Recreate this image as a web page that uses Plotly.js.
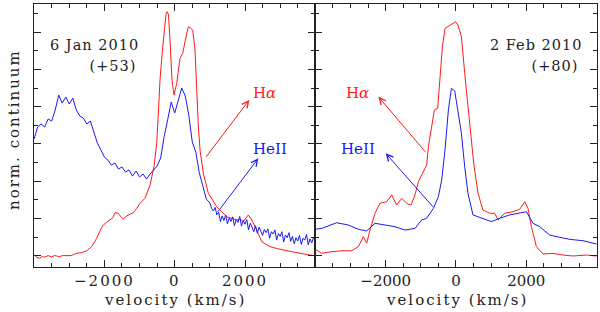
<!DOCTYPE html>
<html>
<head>
<meta charset="utf-8">
<script src="https://cdn.plot.ly/plotly-3.0.1.min.js"></script>
<style>
html,body{margin:0;padding:0;background:#fff;}
#chart{width:600px;height:312px;}
#chart .xtick text,
#chart g.annotation[data-index="12"] text,
#chart g.annotation[data-index="13"] text,
#chart g.annotation[data-index="14"] text{letter-spacing:2px;}
#chart g.annotation[data-index="0"] text,
#chart g.annotation[data-index="1"] text,
#chart g.annotation[data-index="2"] text,
#chart g.annotation[data-index="3"] text{letter-spacing:1px;}
</style>
</head>
<body>
<div id="chart"></div>
<script>
// ---------- Panel 1: 6 Jan 2010 (+53) ----------
const heII1V = [-4000,-3900,-3800,-3700,-3600,-3500,-3400,-3300,-3200,-3100,-3000,-2900,-2800,-2700,-2600,-2500,-2400,-2300,-2200,-2100,-2000,-1900,-1800,-1700,-1600,-1500,-1400,-1300,-1200,-1100,-1000,-900,-800,-700,-600,-500,-400,-300,-200,-100,0,100,200,300,400,500,600,700,800,900,
  1000,1050,1100,1150,1200,1250,1300,1350,1400,1450,1500,1550,1600,1650,1700,1750,1800,1850,1900,1950,2000,2050,2100,2150,2200,2250,2300,2350,2400,2450,2500,2550,2600,2650,2700,2750,2800,2850,2900,2950,3000,3050,3100,3150,3200,3250,3300,3350,3400,3450,3500,3550,3600,3650,3700,3750,3800,3850,3900,3950,4000];
const heII1 = [6.27,6.91,7.07,6.91,7.34,7.23,7.82,8.62,8.19,8.52,8.14,8.46,7.82,7.50,7.39,7.07,7.23,6.64,6.05,5.68,5.30,5.14,4.87,4.98,4.66,4.77,4.50,4.61,4.28,4.55,4.23,4.39,4.12,4.39,4.61,4.82,5.25,6.40,7.30,8.25,7.66,8.36,9.00,8.57,7.55,6.11,5.57,4.45,3.70,3.05,
  2.84,2.55,2.41,2.60,2.20,2.35,1.85,2.15,1.90,2.20,1.72,2.05,1.85,2.10,1.62,1.95,1.80,2.12,1.60,1.90,1.70,1.95,1.40,1.75,1.55,1.30,1.62,1.22,1.55,1.35,1.10,1.42,1.25,1.45,0.95,1.30,1.18,1.40,0.85,1.20,1.05,1.30,0.75,1.12,0.98,1.25,0.78,1.05,0.65,0.98,0.80,1.10,0.62,0.95,0.85,1.15,0.60,0.92,0.70,1.00,0.80];

const ha1V = [-4000,-3920,-3840,-3760,-3700,-3600,-3500,-3420,-3357,-3280,-3200,-3073,-2950,-2870,-2788,-2650,-2504,-2361,-2219,-2100,-2031,-1940,-1840,-1760,-1698,-1605,-1530,-1462,-1390,-1320,-1250,-1178,-1080,-988,-845,-703,-589,-512,-461,-418,-361,-304,-248,-211,-176,-134,-77,-20,57,151,228,293,387,455,512,578,626,671,720,814,956,1195,1479,1650,1764,1860,1952,2094,2191,2333,2475,2600,2711,2900,3090,3300,3471,3650,3849,4000];
const ha1 = [0.05,-0.08,-0.12,-0.02,-0.06,0.02,-0.05,0.03,0.00,-0.04,0.02,0.04,0.02,0.08,0.14,0.18,0.28,0.50,0.95,1.45,1.66,1.80,1.93,2.05,2.32,2.29,2.10,1.97,2.12,2.20,2.25,2.32,2.55,2.82,3.09,3.80,4.78,6.04,7.82,9.43,10.77,12.10,12.96,13.09,12.91,11.57,9.43,8.62,9.25,10.59,10.86,11.48,12.28,12.20,12.10,11.03,8.36,7.02,5.68,4.43,3.36,2.64,2.10,2.02,1.93,1.98,1.84,2.20,1.93,1.39,0.77,0.62,0.50,0.40,0.32,0.22,0.18,0.12,0.05,0.00];

// ---------- Panel 2: 2 Feb 2010 (+80) ----------
const heII2V = [-4000,-3821,-3394,-3061,-2777,-2541,-2304,-2020,-1735,-1451,-1166,-976,-834,-643,-501,-407,-313,-216,-131,-37,57,154,248,341,484,768,1007,1243,1528,2003,2191,2381,2666,2950,3235,3613,4000];
const heII2 = [1.43,1.48,1.78,1.66,1.43,1.34,1.75,1.66,1.57,1.39,1.48,1.93,2.02,2.55,3.18,4.07,5.68,7.82,8.98,8.85,7.82,6.57,4.78,3.36,2.20,2.02,1.84,2.02,2.20,2.37,1.75,1.57,1.12,1.00,0.89,0.82,0.64];

const ha2V = [-4000,-3821,-3536,-3252,-2967,-2777,-2634,-2541,-2447,-2304,-2162,-1972,-1829,-1687,-1545,-1403,-1280,-1166,-1070,-927,-834,-785,-691,-615,-521,-455,-387,-313,-171,-9,57,154,248,390,504,626,768,959,1101,1195,1386,1622,1812,1955,2048,2145,2287,2475,2760,3044,3329,3710,4000];
const ha2 = [0.36,0.14,0.23,0.28,0.28,0.50,1.03,0.68,1.39,2.29,2.82,2.91,3.27,2.73,3.09,2.82,2.73,3.27,3.98,4.52,4.87,5.85,6.93,7.82,7.91,9.43,11.21,12.20,12.37,12.55,12.37,11.75,9.79,6.93,4.97,3.36,2.46,2.29,2.29,1.93,2.29,2.37,2.50,2.91,2.55,1.57,0.50,0.11,0.14,0.05,0.00,0.05,0.00];

const xTickVals = [-2000, 0, 2000];
const panelDates = ["6 Jan 2010", "2 Feb 2010"];
const panelEpochs = ["(+53)", "(+80)"];

const RED = '#ff1a1a', BLUE = '#1a1aee', INK = '#222';
const FONT = 'DejaVu Serif';

const traces = [
  {x: ha1V, y: ha1, xaxis:'x', yaxis:'y', mode:'lines', line:{color:RED, width:1}},
  {x: heII1V, y: heII1, xaxis:'x', yaxis:'y', mode:'lines', line:{color:BLUE, width:1}},
  {x: ha2V, y: ha2, xaxis:'x2', yaxis:'y2', mode:'lines', line:{color:RED, width:1}},
  {x: heII2V, y: heII2, xaxis:'x2', yaxis:'y2', mode:'lines', line:{color:BLUE, width:1}}
];

const minorX = [];
for (let v = -3500; v <= 3500; v += 500) if (v % 2000 !== 0) minorX.push(v);

function xAxis(domain, range, anchor){
  return {domain, range, anchor, showline:true, linecolor:INK, linewidth:1, mirror:'ticks',
    ticks:'inside', ticklen:7, tickcolor:INK, tickwidth:1, tickmode:'array', tickvals:xTickVals,
    minor:{tickmode:'array', tickvals:minorX, ticks:'inside', ticklen:4, tickcolor:INK, tickwidth:1, showgrid:false},
    tickfont:{family:FONT, size:15, color:INK}, showgrid:false, zeroline:false, fixedrange:true};
}
function yAxis(anchor){
  return {domain:[0,1], range:[-0.59, 13.5], anchor, showline:true, linecolor:INK, linewidth:1, mirror:'ticks',
    ticks:'inside', ticklen:7, tickcolor:INK, tickwidth:1, tick0:0, dtick:2,
    minor:{dtick:1, ticks:'inside', ticklen:4, tickcolor:INK, tickwidth:1, showgrid:false},
    showticklabels:false, showgrid:false, zeroline:false};
}

const txt = (x, y, text, color, xref, yref, xanchor, size) => ({x, y, text, xref, yref, showarrow:false,
  xanchor: xanchor || 'center', yanchor:'middle', font:{family:FONT, size: size || 15, color}});
const arrow = (x, y, ax, ay, color, xref, yref) => ({x, y, ax, ay, xref, yref, axref:xref, ayref:yref,
  text:'', showarrow:true, arrowhead:5, arrowsize:1.3, arrowwidth:1, arrowcolor:color, standoff:0, startstandoff:0});

const annotations = [
  txt(-1101, 11.30, panelDates[0], INK, 'x', 'y', 'right', 14.5),
  txt(-1101, 10.18, panelEpochs[0], INK, 'x', 'y', 'right', 14.5),
  txt(3499, 11.30, panelDates[1], INK, 'x2', 'y2', 'right', 14.5),
  txt(3480, 10.18, panelEpochs[1], INK, 'x2', 'y2', 'right', 14.5),
  txt(2541, 8.73, 'H<i>α</i>', RED, 'x', 'y'),
  txt(2711, 5.75, 'HeII', BLUE, 'x', 'y'),
  txt(-2788, 8.73, 'H<i>α</i>', RED, 'x2', 'y2'),
  txt(-2797, 5.75, 'HeII', BLUE, 'x2', 'y2'),
  arrow(2122, 8.36, 862, 5.23, RED, 'x', 'y'),
  arrow(2378, 5.23, 1195, 2.29, BLUE, 'x', 'y'),
  arrow(-2208, 8.53, -834, 5.50, RED, 'x2', 'y2'),
  arrow(-2000, 5.50, -615, 2.55, BLUE, 'x2', 'y2'),
  txt(0.2510, -0.125, 'velocity (km/s)', INK, 'paper', 'paper'),
  txt(0.7505, -0.125, 'velocity (km/s)', INK, 'paper', 'paper'),
  Object.assign(txt(-0.0355, 0.521, 'norm. continuum', INK, 'paper', 'paper'), {textangle:-90})
];

const layout = {
  width:600, height:312, margin:{l:34, r:3, t:4, b:45, pad:0},
  paper_bgcolor:'#fff', plot_bgcolor:'#fff', showlegend:false,
  xaxis: xAxis([0, 0.4991], [-4003, 3991], 'y'),
  xaxis2: xAxis([0.4991, 1], [-4011, 4011], 'y2'),
  yaxis: yAxis('x'),
  yaxis2: yAxis('x2'),
  annotations
};

Plotly.newPlot('chart', traces, layout, {staticPlot:true, displayModeBar:false});
</script>
</body>
</html>
